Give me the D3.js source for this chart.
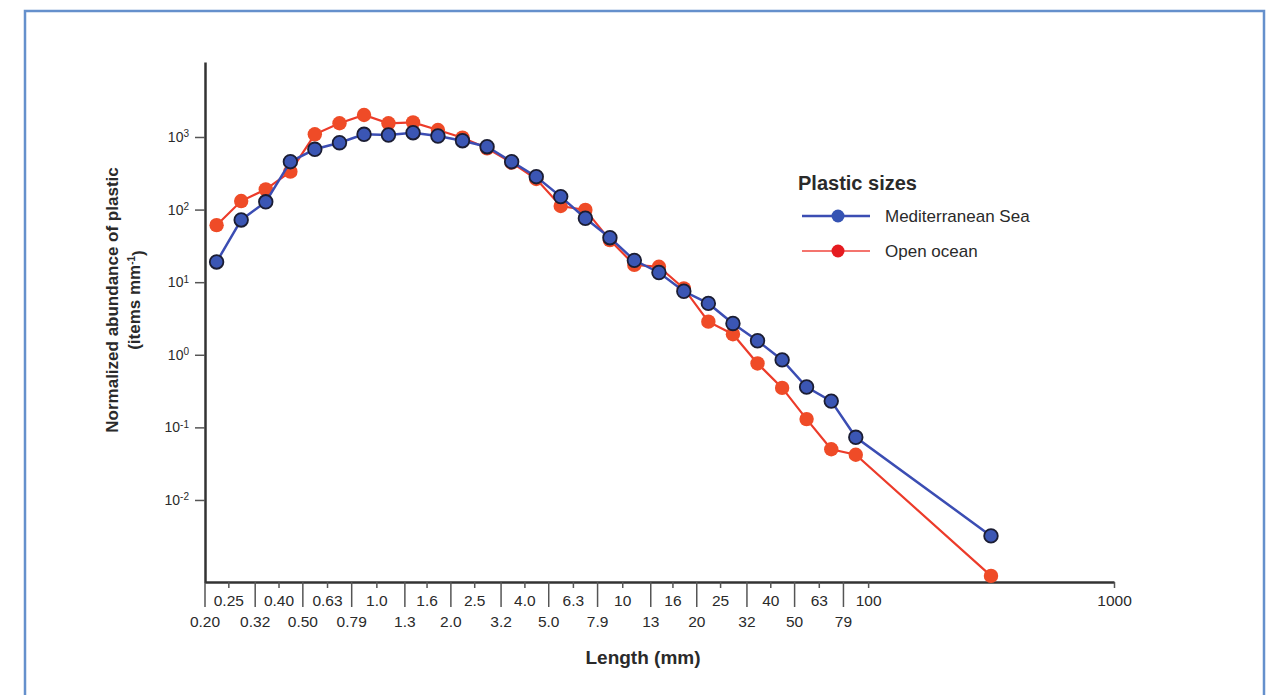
<!DOCTYPE html>
<html>
<head>
<meta charset="utf-8">
<script src="https://cdn.jsdelivr.net/npm/d3@7"></script>
<style>
    body { margin: 0; background: #fff; }
    svg text { font-family: "Liberation Sans", Arial, sans-serif; fill: #2a2a2a; }
</style>
</head>
<body>
<div id="chart"></div>
<script>
// bin centres (mm) and abundances
const lengths = [0.224, 0.282, 0.355, 0.447, 0.562, 0.708, 0.891, 1.12, 1.41, 1.78, 2.24, 2.82, 3.55, 4.47,
    5.62, 7.08, 8.91, 11.2, 14.1, 17.8, 22.4, 28.2, 35.5, 44.7, 56.2, 70.8, 89.1, 316];

const mediterranean = [19, 72, 128, 457, 677, 834, 1089, 1066, 1146, 1032, 889, 735, 457, 284,
    151, 76, 41, 20, 13.6, 7.5, 5.1, 2.7, 1.56, 0.85, 0.36, 0.23, 0.073, 0.0032];

const openOcean = [61, 131, 190, 333, 1089, 1545, 2010, 1545, 1592, 1249, 978, 698, 443, 264,
    112, 99, 38, 17.3, 16.3, 8.2, 2.86, 1.92, 0.76, 0.35, 0.13, 0.050, 0.042, 0.0009];

const tickMid = [0.25, 0.40, 0.63, 1.0, 1.6, 2.5, 4.0, 6.3, 10, 16, 25, 40, 63, 100, 1000];
const tickMidLabels = ["0.25", "0.40", "0.63", "1.0", "1.6", "2.5", "4.0", "6.3", "10", "16", "25", "40", "63", "100", "1000"];
const tickEdge = [0.20, 0.32, 0.50, 0.79, 1.3, 2.0, 3.2, 5.0, 7.9, 13, 20, 32, 50, 79];
const tickEdgeLabels = ["0.20", "0.32", "0.50", "0.79", "1.3", "2.0", "3.2", "5.0", "7.9", "13", "20", "32", "50", "79"];

const yTicks = [1e-2, 1e-1, 1, 10, 100, 1000];
const yExponents = ["-2", "-1", "0", "1", "2", "3"];

const seriesNames = ["Mediterranean Sea", "Open ocean"];

const WIDTH = 1267,
    HEIGHT = 695;

const svg = d3.select("#chart")
    .append("svg")
    .attr("width", WIDTH)
    .attr("height", HEIGHT);

// frame
svg.append("path")
    .attr("d", `M25,${HEIGHT + 5} V11 H1264 V${HEIGHT + 5}`)
    .attr("fill", "none")
    .attr("stroke", "#6590cc")
    .attr("stroke-width", 2.5);

const escalaX = d3.scaleLog()
    .domain([0.2, 1000])
    .range([204.5, 1114]);

const escalaY = d3.scaleLog()
    .domain([Math.pow(10, -3.13), Math.pow(10, 4.033)])
    .range([582, 62]);

// x axis: short ticks at bin centres, long ticks at bin edges
const xAxisMid = svg.append("g")
    .attr("transform", "translate(0, 582)")
    .call(d3.axisBottom(escalaX)
        .tickValues(tickMid)
        .tickFormat((d, i) => tickMidLabels[i])
        .tickSize(6)
        .tickSizeOuter(0)
        .tickPadding(7));

const xAxisEdge = svg.append("g")
    .attr("transform", "translate(0, 582)")
    .call(d3.axisBottom(escalaX)
        .tickValues(tickEdge)
        .tickFormat((d, i) => tickEdgeLabels[i])
        .tickSize(25)
        .tickSizeOuter(0)
        .tickPadding(9));
xAxisEdge.select(".domain").remove();

const yAxis = svg.append("g")
    .attr("transform", "translate(205, 0)")
    .call(d3.axisLeft(escalaY)
        .tickValues(yTicks)
        .tickFormat(() => "")
        .tickSize(10)
        .tickSizeOuter(0));

yAxis.selectAll(".tick text")
    .attr("x", -16)
    .each(function (d, i) {
        const t = d3.select(this);
        t.append("tspan").text("10");
        t.append("tspan")
            .attr("dy", "-0.45em")
            .attr("font-size", "10px")
            .text(yExponents[i]);
    });

svg.selectAll(".domain").attr("stroke", "#333").attr("stroke-width", 2.5);
svg.selectAll(".tick line").attr("stroke", "#555").attr("stroke-width", 1.5);
svg.selectAll(".tick text").attr("font-size", "15.5px").attr("fill", "#2a2a2a");
yAxis.selectAll(".tick text").attr("font-size", "14px");

// axis titles
svg.append("text")
    .attr("x", 643)
    .attr("y", 664)
    .attr("text-anchor", "middle")
    .attr("font-size", "19px")
    .attr("font-weight", "bold")
    .text("Length (mm)");

const yTitle = svg.append("text")
    .attr("transform", "translate(118, 300) rotate(-90)")
    .attr("text-anchor", "middle")
    .attr("font-size", "17px")
    .attr("font-weight", "bold");
yTitle.append("tspan")
    .attr("x", 0)
    .attr("dy", 0)
    .text("Normalized abundance of plastic");
const line2 = yTitle.append("tspan")
    .attr("x", 0)
    .attr("dy", "1.3em");
line2.append("tspan").text("(items mm");
line2.append("tspan").attr("dy", "-0.5em").attr("font-size", "10px").text("-1");
line2.append("tspan").attr("dy", "0.5em").text(")");

// series
const ocean = lengths.map((l, i) => ({ x: l, y: openOcean[i] }));
const med = lengths.map((l, i) => ({ x: l, y: mediterranean[i] }));

const linea = d3.line()
    .x((d) => escalaX(d.x))
    .y((d) => escalaY(d.y));

svg.append("path")
    .datum(ocean)
    .attr("fill", "none")
    .attr("stroke", "#ec3b2a")
    .attr("stroke-width", 2.2)
    .attr("d", linea);

svg.append("g")
    .selectAll("circle")
    .data(ocean)
    .join("circle")
    .attr("cx", (d) => escalaX(d.x))
    .attr("cy", (d) => escalaY(d.y))
    .attr("r", 7.2)
    .attr("fill", "#ef4b27");

svg.append("path")
    .datum(med)
    .attr("fill", "none")
    .attr("stroke", "#3b4db3")
    .attr("stroke-width", 2.5)
    .attr("d", linea);

svg.append("g")
    .selectAll("circle")
    .data(med)
    .join("circle")
    .attr("cx", (d) => escalaX(d.x))
    .attr("cy", (d) => escalaY(d.y))
    .attr("r", 6.8)
    .attr("fill", "#3b56b4")
    .attr("stroke", "#1b1d33")
    .attr("stroke-width", 1.8);

// legend
const legend = svg.append("g").attr("transform", "translate(798, 190)");

legend.append("text")
    .attr("x", 0)
    .attr("y", 0)
    .attr("font-size", "20px")
    .attr("font-weight", "bold")
    .attr("fill", "#1e1e1e")
    .text("Plastic sizes");

const legendColors = [
    { line: "#3b4db3", dot: "#3553b3", width: 2.5 },
    { line: "#f0463e", dot: "#e51b20", width: 1.5 }
];

seriesNames.forEach((name, i) => {
    const y = 26 + i * 35;
    legend.append("line")
        .attr("x1", 4).attr("x2", 72)
        .attr("y1", y).attr("y2", y)
        .attr("stroke", legendColors[i].line)
        .attr("stroke-width", legendColors[i].width);
    legend.append("circle")
        .attr("cx", 40).attr("cy", y)
        .attr("r", 6.5)
        .attr("fill", legendColors[i].dot);
    legend.append("text")
        .attr("x", 87)
        .attr("y", y + 6)
        .attr("font-size", "17px")
        .text(name);
});
</script>
</body>
</html>
